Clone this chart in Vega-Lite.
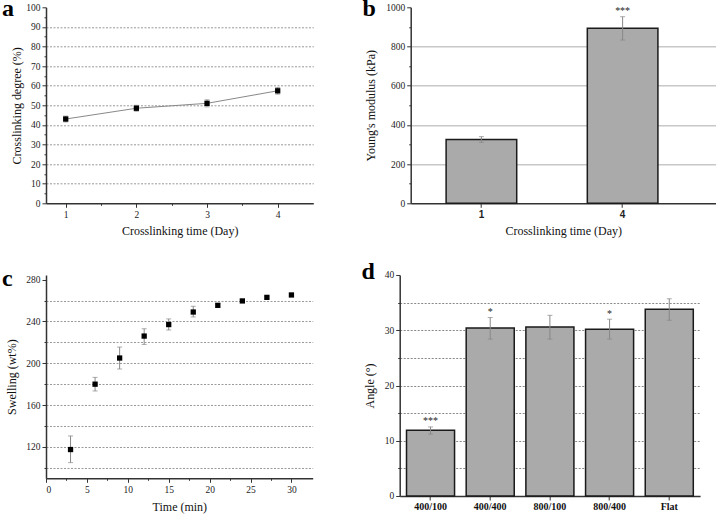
{
  "$schema": "https://vega.github.io/schema/vega-lite/v6.json",
  "background": "white",
  "padding": {"left": 2, "top": -3.7, "right": 0, "bottom": 6},
  "spacing": 267.7,
  "bounds": "flush",
  "config": {
    "font": "Liberation Serif",
    "view": {"stroke": null},
    "axis": {
      "labelFont": "Liberation Serif", "labelFontSize": 9.5, "labelColor": "#222",
      "titleFont": "Liberation Serif", "titleFontSize": 12, "titleFontWeight": "normal", "titleColor": "#111",
      "domainColor": "#333", "domainWidth": 1.5, "tickColor": "#333", "tickWidth": 1, "tickSize": 4,
      "labelPadding": 2, "grid": false, "labelOverlap": false
    },
    "title": {"font": "Liberation Serif", "fontSize": 24, "fontWeight": "bold", "color": "#000", "anchor": "start", "frame": "group", "orient": "top", "offset": 0, "baseline": "alphabetic"}
  },
  "vconcat": [
    {
      "bounds": "flush",
      "spacing": 96.7,
      "hconcat": [
        {
          "width": 267.3, "height": 196,
          "title": {"text": "a", "dx": -44, "dy": 22.5},
          "data": {"values": [
            {"day": 1, "v": 43, "lo": 41.5, "hi": 44.5},
            {"day": 2, "v": 48.5, "lo": 47, "hi": 50},
            {"day": 3, "v": 51, "lo": 49.2, "hi": 52.8},
            {"day": 4, "v": 57.4, "lo": 55.7, "hi": 59.1}
          ]},
          "layer": [
            {
              "mark": {"type": "line", "color": "#888", "strokeWidth": 1},
              "encoding": {
                "x": {"field": "day", "type": "quantitative", "title": "Crosslinking time (Day)", "scale": {"domain": [0.721, 4.504], "nice": false},
                  "axis": {"values": [1, 1.5, 2, 2.5, 3, 3.5, 4], "tickCount": 100, "labelExpr": "datum.value % 1 == 0 ? '' + datum.value : ''",
                    "tickSize": {"condition": {"test": "datum.value % 1 != 0", "value": 2}, "value": 4},
                    "titleY": 27, "titleBaseline": "middle"}},
                "y": {"field": "v", "type": "quantitative", "title": "Crosslinking degree (%)", "scale": {"domain": [0, 100], "nice": false},
                  "axis": {"values": [0,5,10,15,20,25,30,35,40,45,50,55,60,65,70,75,80,85,90,95,100], "tickCount": 100,
                    "labelExpr": "datum.value % 10 == 0 ? '' + datum.value : ''",
                    "tickSize": {"condition": {"test": "datum.value % 10 != 0", "value": 2}, "value": 4},
                    "grid": true, "gridColor": "#999", "gridDash": [2, 1.5], "gridWidth": 1,
                    "gridOpacity": {"condition": {"test": "datum.value % 10 != 0 || datum.value == 0 || datum.value == 100", "value": 0}, "value": 1},
                    "titleX": -30, "titleBaseline": "middle"}}
              }
            },
            {
              "mark": {"type": "errorbar", "ticks": {"size": 5}, "color": "#888"},
              "encoding": {
                "x": {"field": "day", "type": "quantitative", "title": "Crosslinking time (Day)"},
                "y": {"field": "lo", "type": "quantitative", "title": "Crosslinking degree (%)"},
                "y2": {"field": "hi"}
              }
            },
            {
              "mark": {"type": "point", "shape": "square", "filled": true, "color": "#000", "size": 28, "opacity": 1},
              "encoding": {
                "x": {"field": "day", "type": "quantitative", "title": "Crosslinking time (Day)"},
                "y": {"field": "v", "type": "quantitative", "title": "Crosslinking degree (%)"}
              }
            }
          ]
        },
        {
          "width": 305, "height": 196,
          "title": {"text": "b", "dx": -48.3, "dy": 22.5},
          "data": {"values": [
            {"day": "1", "v": 325, "lo": 311, "hi": 340, "sig": ""},
            {"day": "4", "v": 893, "lo": 833, "hi": 952, "sig": "***"}
          ]},
          "encoding": {
            "x": {"field": "day", "type": "nominal", "sort": null, "title": "Crosslinking time (Day)",
              "scale": {"paddingInner": 0.5, "paddingOuter": 0.33, "align": 0.38},
              "axis": {"labelAngle": 0, "labelFont": "Liberation Sans", "labelFontWeight": "bold", "labelFontSize": 10, "titleY": 27, "titleBaseline": "middle"}}
          },
          "layer": [
            {
              "mark": {"type": "bar", "fill": "#aaaaaa", "stroke": "#1a1a1a", "strokeWidth": 1.5},
              "encoding": {
                "y": {"field": "v", "type": "quantitative", "title": "Young's modulus (kPa)", "scale": {"domain": [0, 1000], "nice": false},
                  "axis": {"values": [0,100,200,300,400,500,600,700,800,900,1000], "tickCount": 100,
                    "labelExpr": "datum.value % 200 == 0 ? '' + datum.value : ''",
                    "tickSize": {"condition": {"test": "datum.value % 200 != 0", "value": 2}, "value": 4},
                    "grid": true, "gridColor": "#c8c8c8", "gridWidth": 1.5,
                    "gridOpacity": {"condition": {"test": "datum.value % 200 != 0 || datum.value == 0 || datum.value == 1000", "value": 0}, "value": 1},
                    "titleX": -40, "titleBaseline": "middle"}}
              }
            },
            {
              "mark": {"type": "errorbar", "ticks": {"size": 5}, "color": "#888"},
              "encoding": {
                "y": {"field": "lo", "type": "quantitative", "title": "Young's modulus (kPa)"},
                "y2": {"field": "hi"}
              }
            },
            {
              "mark": {"type": "text", "baseline": "alphabetic", "dy": -2.5, "fontSize": 10, "color": "#222"},
              "encoding": {
                "y": {"field": "hi", "type": "quantitative", "title": "Young's modulus (kPa)"},
                "text": {"field": "sig"}
              }
            }
          ]
        }
      ]
    },
    {
      "bounds": "flush",
      "spacing": 86.7,
      "hconcat": [
        {
          "width": 266.7, "height": 203.3,
          "title": {"text": "c", "dx": -44, "dy": 20},
          "data": {"values": [
            {"t": 3, "v": 117.5, "lo": 105, "hi": 130.5},
            {"t": 6, "v": 180, "lo": 173.5, "hi": 186.5},
            {"t": 9, "v": 205, "lo": 194.5, "hi": 215.5},
            {"t": 12, "v": 226, "lo": 218, "hi": 233},
            {"t": 15, "v": 237, "lo": 231.8, "hi": 242.4},
            {"t": 18, "v": 249, "lo": 244.3, "hi": 254.5},
            {"t": 21, "v": 255.4, "lo": 254, "hi": 257},
            {"t": 24, "v": 259.6, "lo": 258.6, "hi": 260.6},
            {"t": 27, "v": 263, "lo": 262, "hi": 264},
            {"t": 30, "v": 265.3, "lo": 264.3, "hi": 266.3}
          ]},
          "layer": [
            {
              "mark": {"type": "errorbar", "ticks": {"size": 5}, "color": "#888"},
              "encoding": {
                "x": {"field": "t", "type": "quantitative", "title": "Time (min)", "scale": {"domain": [0, 32.6], "nice": false},
                  "axis": {"values": [0,2.5,5,7.5,10,12.5,15,17.5,20,22.5,25,27.5,30], "tickCount": 100,
                    "labelExpr": "datum.value % 5 == 0 ? '' + datum.value : ''",
                    "tickSize": {"condition": {"test": "datum.value % 5 != 0", "value": 2}, "value": 4},
                    "titleY": 28, "titleBaseline": "middle"}},
                "y": {"field": "lo", "type": "quantitative", "title": "Swelling (wt%)", "scale": {"domain": [90, 284.4], "nice": false},
                  "axis": {"values": [100,120,140,160,180,200,220,240,260,280], "tickCount": 100,
                    "labelExpr": "(datum.value - 120) % 40 == 0 ? '' + datum.value : ''",
                    "tickSize": {"condition": {"test": "(datum.value - 120) % 40 != 0", "value": 2}, "value": 4},
                    "grid": true, "gridColor": "#999", "gridDash": [2, 1.5], "gridWidth": 1,
                    "gridOpacity": {"condition": {"test": "datum.value == 280", "value": 0}, "value": 1},
                    "titleX": -35, "titleBaseline": "middle"}},
                "y2": {"field": "hi"}
              }
            },
            {
              "mark": {"type": "point", "shape": "square", "filled": true, "color": "#000", "size": 28, "opacity": 1},
              "encoding": {
                "x": {"field": "t", "type": "quantitative", "title": "Time (min)"},
                "y": {"field": "v", "type": "quantitative", "title": "Swelling (wt%)"}
              }
            }
          ]
        },
        {
          "width": 300.4, "height": 221,
          "title": {"text": "d", "dx": -38.3, "dy": 18},
          "data": {"values": [
            {"g": "400/100", "v": 11.9, "lo": 11.2, "hi": 12.5, "sig": "***"},
            {"g": "400/400", "v": 30.4, "lo": 28.4, "hi": 32.3, "sig": "*"},
            {"g": "800/100", "v": 30.6, "lo": 28.4, "hi": 32.7, "sig": ""},
            {"g": "800/400", "v": 30.2, "lo": 28.4, "hi": 32, "sig": "*"},
            {"g": "Flat", "v": 33.8, "lo": 31.8, "hi": 35.7, "sig": ""}
          ]},
          "encoding": {
            "x": {"field": "g", "type": "nominal", "sort": null, "title": null,
              "scale": {"paddingInner": 0.195, "paddingOuter": 0.114},
              "axis": {"labelAngle": 0, "labelFontWeight": "bold", "labelFontSize": 10, "labelColor": "#111"}}
          },
          "layer": [
            {
              "mark": {"type": "bar", "fill": "#aaaaaa", "stroke": "#1a1a1a", "strokeWidth": 1.5},
              "encoding": {
                "y": {"field": "v", "type": "quantitative", "title": "Angle (°)", "scale": {"domain": [0, 40], "nice": false},
                  "axis": {"values": [0,5,10,15,20,25,30,35,40], "tickCount": 100,
                    "labelExpr": "datum.value % 10 == 0 ? '' + datum.value : ''",
                    "tickSize": {"condition": {"test": "datum.value % 10 != 0", "value": 2}, "value": 4},
                    "grid": true, "gridColor": "#888", "gridDash": [2, 1.5], "gridWidth": 1,
                    "gridOpacity": {"condition": {"test": "datum.value == 0 || datum.value == 40", "value": 0}, "value": 1},
                    "titleX": -30, "titleBaseline": "middle"}}
              }
            },
            {
              "mark": {"type": "errorbar", "ticks": {"size": 5}, "color": "#888"},
              "encoding": {
                "y": {"field": "lo", "type": "quantitative", "title": "Angle (°)"},
                "y2": {"field": "hi"}
              }
            },
            {
              "mark": {"type": "text", "baseline": "alphabetic", "dy": -2.5, "fontSize": 10, "color": "#222"},
              "encoding": {
                "y": {"field": "hi", "type": "quantitative", "title": "Angle (°)"},
                "text": {"field": "sig"}
              }
            }
          ]
        }
      ]
    }
  ]
}
